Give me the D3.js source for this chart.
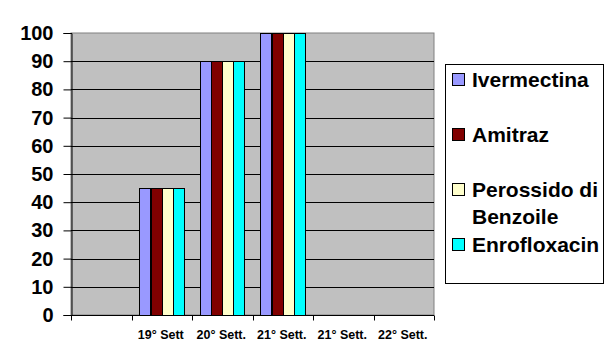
<!DOCTYPE html>
<html>
<head>
<meta charset="utf-8">
<script src="https://cdn.jsdelivr.net/npm/d3@7"></script>
<style>
  body { margin: 0; background: #fff; }
  svg { display: block; font-family: "Liberation Sans", Arial, sans-serif; font-weight: bold; }
</style>
</head>
<body>
<svg id="chart" width="616" height="362"></svg>
<script>
// Categories along the x axis (first one has no label)
const categories = ["", "19° Sett", "20° Sett.", "21° Sett.", "21° Sett.", "22° Sett."];

// Series names and their colours
const seriesNames = ["Ivermectina", "Amitraz", "Perossido di Benzoile", "Enrofloxacin"];
const seriesColors = ["#9999ff", "#800000", "#ffffcc", "#00ffff"];

// Values per series (null = no bar)
const ivermectina = [null, 45, 90, 100, null, null];
const amitraz = [null, 45, 90, 100, null, null];
const perossido = [null, 45, 90, 100, null, null];
const enrofloxacin = [null, 45, 90, 100, null, null];

const yTicks = [0, 10, 20, 30, 40, 50, 60, 70, 80, 90, 100];

const seriesValues = [ivermectina, amitraz, perossido, enrofloxacin];

const svg = d3.select("#chart");
const margin = { top: 33, right: 182, bottom: 47, left: 71 };
const width = +svg.attr("width");
const height = +svg.attr("height");

// Category index is used as the band key since two labels repeat
const x0 = d3.scaleBand()
  .domain(categories.map((d, i) => i))
  .range([margin.left, width - margin.right])
  .padding(0);

const x1 = d3.scaleBand()
  .domain(seriesNames)
  .range([0, x0.bandwidth()])
  .paddingInner(0)
  .paddingOuter(0.71);

const y = d3.scaleLinear()
  .domain([0, 100])
  .range([height - margin.bottom, margin.top]);

// Plot area
svg.append("rect")
  .attr("x", margin.left)
  .attr("y", margin.top)
  .attr("width", width - margin.left - margin.right)
  .attr("height", y(0) - y(100))
  .attr("fill", "#c0c0c0")
  .attr("stroke", "#808080")
  .attr("stroke-width", 1);

// Gridlines
svg.append("g")
  .selectAll("line")
  .data(yTicks.filter(d => d > 0 && d < 100))
  .join("line")
    .attr("x1", margin.left)
    .attr("x2", width - margin.right)
    .attr("y1", d => Math.round(y(d)) + 0.5)
    .attr("y2", d => Math.round(y(d)) + 0.5)
    .attr("stroke", "#000")
    .attr("stroke-width", 1);

// Bars
const rows = [];
categories.forEach((c, i) => {
  seriesNames.forEach((s, k) => {
    const v = seriesValues[k][i];
    if (v != null) rows.push({ i, s, v, color: seriesColors[k] });
  });
});

svg.append("g")
  .selectAll("rect")
  .data(rows)
  .join("rect")
    .attr("x", d => Math.round(x0(d.i) + x1(d.s)) + 0.5)
    .attr("y", d => Math.round(y(d.v)) + 0.5)
    .attr("width", d => Math.round(x1.bandwidth()))
    .attr("height", d => Math.round(y(0) - y(d.v)))
    .attr("fill", d => d.color)
    .attr("stroke", "#000")
    .attr("stroke-width", 1);

// Y axis
const yAxis = svg.append("g")
  .attr("transform", `translate(${margin.left + 0.5},0)`)
  .call(d3.axisLeft(y).tickValues(yTicks).tickSize(8).tickPadding(10));
yAxis.select(".domain").attr("stroke", "#000");
yAxis.selectAll("text")
  .attr("font-size", 20)
  .attr("font-family", "'Liberation Sans', Arial, sans-serif")
  .attr("font-weight", "bold")
  .attr("fill", "#000");

// X axis: ticks at category boundaries
const xBottom = Math.round(y(0)) + 0.5;
svg.append("line")
  .attr("x1", margin.left)
  .attr("x2", width - margin.right)
  .attr("y1", xBottom)
  .attr("y2", xBottom)
  .attr("stroke", "#000");

const boundaries = categories.map((d, i) => x0(i)).concat([x0(categories.length - 1) + x0.bandwidth()]);
svg.append("g")
  .selectAll("line")
  .data(boundaries)
  .join("line")
    .attr("x1", d => Math.round(d) + 0.5)
    .attr("x2", d => Math.round(d) + 0.5)
    .attr("y1", xBottom)
    .attr("y2", xBottom + 5)
    .attr("stroke", "#000");

svg.append("g")
  .selectAll("text")
  .data(categories)
  .join("text")
    .attr("x", (d, i) => x0(i) + x0.bandwidth() / 2 - 1)
    .attr("y", 339)
    .attr("text-anchor", "middle")
    .attr("font-size", 12.5)
    .text(d => d);

// Legend
const legend = svg.append("g");
legend.append("rect")
  .attr("x", 445.5)
  .attr("y", 64.5)
  .attr("width", 158)
  .attr("height", 219)
  .attr("fill", "#fff")
  .attr("stroke", "#000");

const legendItems = [
  { lines: ["Ivermectina"], base: 87 },
  { lines: ["Amitraz"], base: 142 },
  { lines: ["Perossido di", "Benzoile"], base: 197 },
  { lines: ["Enrofloxacin"], base: 252 }
];

const items = legend.selectAll("g.item")
  .data(legendItems)
  .join("g")
    .attr("class", "item");

items.append("rect")
  .attr("x", 452.5)
  .attr("y", d => d.base - 13.5)
  .attr("width", 12)
  .attr("height", 12)
  .attr("fill", (d, i) => seriesColors[i])
  .attr("stroke", "#000");

items.append("text")
  .attr("x", 472)
  .attr("y", d => d.base)
  .attr("font-size", 21)
  .selectAll("tspan")
  .data(d => d.lines)
  .join("tspan")
    .attr("x", 472)
    .attr("dy", (d, i) => i === 0 ? 0 : 27)
    .text(d => d);
</script>
</body>
</html>
